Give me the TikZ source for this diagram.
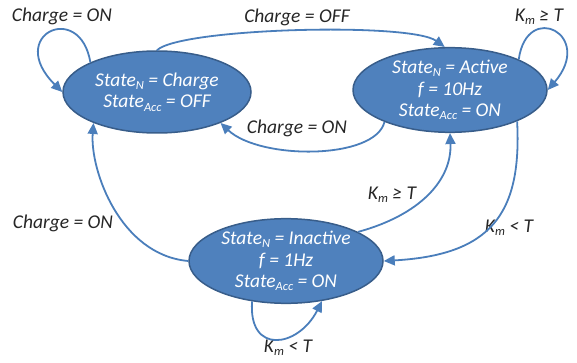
\documentclass[tikz,border=0pt]{standalone}
\usepackage{fontspec}
\setmainfont{Carlito}
\usetikzlibrary{shapes.geometric,arrows.meta}
\definecolor{nodefill}{HTML}{4F81BD}
\definecolor{nodeedge}{HTML}{385D8A}
\definecolor{linecol}{HTML}{4A7EBB}
\definecolor{labcol}{HTML}{262626}
\newcommand{\subtx}[1]{\raisebox{-0.35ex}{\fontsize{12.5}{12.5}\selectfont #1}}
\begin{document}
\begin{tikzpicture}[x=1pt,y=-1pt,
  statebox/.style={ellipse,draw=nodeedge,line width=1.5pt,fill=nodefill,inner sep=0pt,
    text=white,align=center,font=\fontsize{19.5}{21.5}\selectfont\itshape},
  lab/.style={text=labcol,inner sep=0pt,font=\fontsize{19.5}{21.5}\selectfont\itshape},
  conn/.style={draw=linecol,line width=1.8pt,-{Triangle[length=11pt,width=10pt]}}]
\useasboundingbox (0,0) rectangle (577,363);
\node[statebox,minimum width=188pt,minimum height=82pt] (charge) at (157,92)
  {State\subtx{N} = Charge\\State\subtx{Acc} = OFF};
\node[statebox,minimum width=194pt,minimum height=80pt] (active) at (450,90)
  {State\subtx{N} = Active\\f = 10Hz\\State\subtx{Acc} = ON};
\node[statebox,minimum width=194pt,minimum height=82pt] (inactive) at (286,261)
  {State\subtx{N} = Inactive\\f = 1Hz\\State\subtx{Acc} = ON};
% labels
\node[lab] (l1) at (62,16) {Charge = ON};
\node[lab] (l2) at (297,17) {Charge = OFF};
\node[lab] (l3) at (297,128) {Charge = ON};
\node[lab] (l4) at (63,223) {Charge = ON};
\node[lab] (l5) at (539,17) {K\subtx{m} ≥ T};
\node[lab] (l6) at (392,195) {K\subtx{m} ≥ T};
\node[lab] (l7) at (509,228) {K\subtx{m} < T};
\node[lab] (l8) at (288,348) {K\subtx{m} < T};
% connectors
\draw[conn] (charge.156) .. controls (80,0) and (5,35) .. (charge.180);
\draw[conn] (charge.90) .. controls (180,28) and (410,22) .. (active.97);
\draw[conn] (active.206) .. controls (375,160) and (260,160) .. (charge.334);
\draw[conn] (active.24) .. controls (527,0) and (595,35) .. (active.0);
\draw[conn] (inactive.22) .. controls (420,215) and (452,180) .. (active.270);
\draw[conn] (active.335) .. controls (522,215) and (490,255) .. (inactive.0);
\draw[conn] (inactive.180) .. controls (120,255) and (90,170) .. (charge.206);
\draw[conn] (inactive.230) .. controls (248,355) and (298,348) .. (inactive.312);
\end{tikzpicture}
\end{document}
